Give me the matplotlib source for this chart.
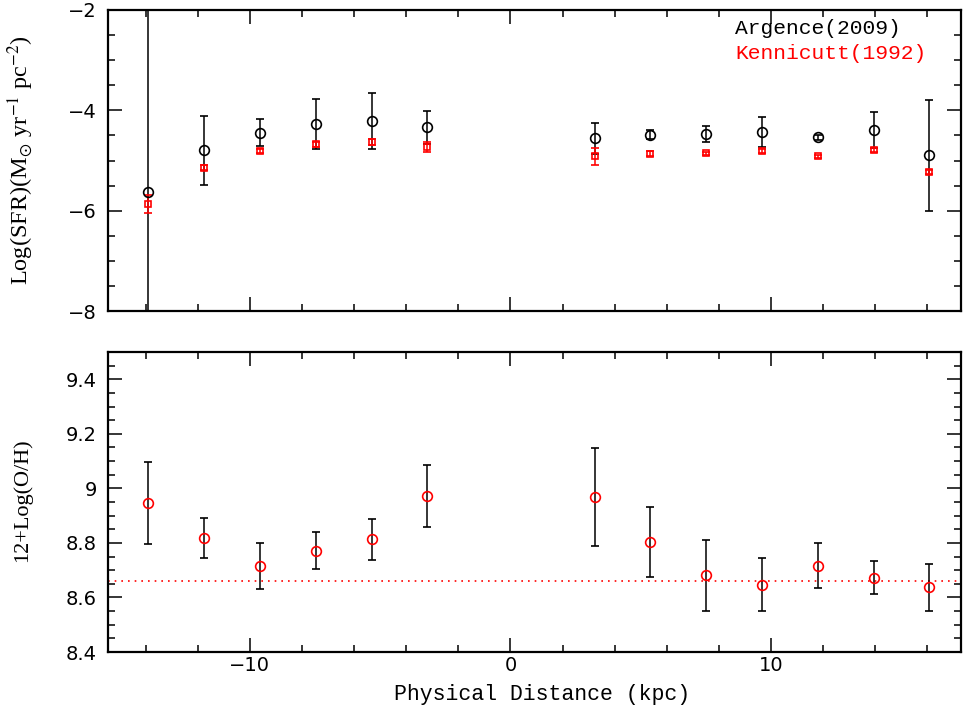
import numpy as np
import matplotlib
matplotlib.use("Agg")
import matplotlib.pyplot as plt
from matplotlib.ticker import MultipleLocator

plt.rcParams['font.family'] = ['DejaVu Sans']
plt.rcParams['mathtext.fontset'] = 'stix'

# --- Data ---
dist = [-13.9, -11.75, -9.61, -7.46, -5.32, -3.19,
        3.24, 5.37, 7.51, 9.65, 11.8, 13.94, 16.08]

# Argence (2009) SFR
sfr_arg = [-5.63, -4.80, -4.45, -4.28, -4.22, -4.34,
           -4.56, -4.49, -4.48, -4.43, -4.54, -4.40, -4.90]
sfr_arg_err = [4.0, 0.69, 0.27, 0.50, 0.56, 0.33,
               0.31, 0.09, 0.16, 0.30, 0.05, 0.36, 1.11]

# Kennicutt (1992) SFR
sfr_ken = [-5.87, -5.14, -4.82, -4.68, -4.63, -4.73,
           -4.92, -4.87, -4.86, -4.81, -4.92, -4.80, -5.23]
sfr_ken_err = [0.18, 0.05, 0.04, 0.05, 0.06, 0.10,
               0.17, 0.05, 0.03, 0.04, 0.03, 0.04, 0.04]

# Oxygen abundance
oh = [8.945, 8.818, 8.715, 8.771, 8.814, 8.972,
      8.969, 8.803, 8.682, 8.647, 8.716, 8.672, 8.638]
oh_err = [0.150, 0.075, 0.083, 0.068, 0.075, 0.114,
          0.180, 0.127, 0.130, 0.098, 0.083, 0.060, 0.086]

solar_oh = 8.66

label_font = 'Liberation Mono'
ylab_font = 'Liberation Serif'

# --- Plotting ---
fig = plt.figure(figsize=(9.63, 7.14), dpi=100)
ax1 = fig.add_axes([0.1121, 0.5644, 0.8859, 0.4216])
ax2 = fig.add_axes([0.1121, 0.0868, 0.8859, 0.4202])

ax1.errorbar(dist, sfr_arg, yerr=sfr_arg_err, fmt='o', mfc='none', mec='black',
             ms=7, mew=1.2, ecolor='black', elinewidth=1.1, capsize=3, capthick=1.1)
ax1.errorbar(dist, sfr_ken, yerr=sfr_ken_err, fmt='s', mfc='none', mec='red',
             ms=4.5, mew=1.2, ecolor='red', elinewidth=1.1, capsize=3, capthick=1.1)

ax1.text(0.735, 0.94, 'Argence(2009)', color='black', fontsize=15.3,
         family=label_font, transform=ax1.transAxes, va='center', ha='left')
ax1.text(0.735, 0.857, 'Kennicutt(1992)', color='red', fontsize=15.3,
         family=label_font, transform=ax1.transAxes, va='center', ha='left')

ax1.set_ylim(-8, -2)
ax1.yaxis.set_major_locator(MultipleLocator(2))
ax1.yaxis.set_minor_locator(MultipleLocator(0.5))
ax1.tick_params(labelbottom=False)

ax2.axhline(solar_oh, color='red', linestyle=(0, (1, 3)), linewidth=1.2)
ax2.errorbar(dist, oh, yerr=oh_err, fmt='o', mfc='none', mec='red',
             ms=7, mew=1.2, ecolor='black', elinewidth=1.1, capsize=3, capthick=1.1)
ax2.set_ylim(8.4, 9.5)
ax2.yaxis.set_major_locator(MultipleLocator(0.2))
ax2.yaxis.set_minor_locator(MultipleLocator(0.05))
ax2.yaxis.set_major_formatter(plt.FuncFormatter(lambda v, p: f'{v:g}'))

for ax in (ax1, ax2):
    ax.set_xlim(-15.45, 17.3)
    ax.xaxis.set_major_locator(MultipleLocator(10))
    ax.xaxis.set_minor_locator(MultipleLocator(2))
    ax.tick_params(which='both', direction='in', top=True, right=True, labelsize=14)
    ax.tick_params(axis='y', pad=8)
    ax.tick_params(axis='x', pad=3)
    ax.tick_params(which='major', length=10, width=1.1)
    ax.tick_params(which='minor', length=5, width=1.1)
    for s in ax.spines.values():
        s.set_linewidth(1.6)

fig.text(0.021, 0.776, r'Log(SFR)(M$_{\odot}$ yr$^{-1}$ pc$^{-2}$)', rotation=90,
         ha='center', va='center', fontsize=17.5, family=ylab_font)
fig.text(0.023, 0.30, '12+Log(O/H)', rotation=90,
         ha='center', va='center', fontsize=16, family=ylab_font)
fig.text(0.563, 0.027, 'Physical Distance (kpc)', ha='center', va='center',
         fontsize=15.5, family=label_font)

fig.savefig('out.png', dpi=100)
